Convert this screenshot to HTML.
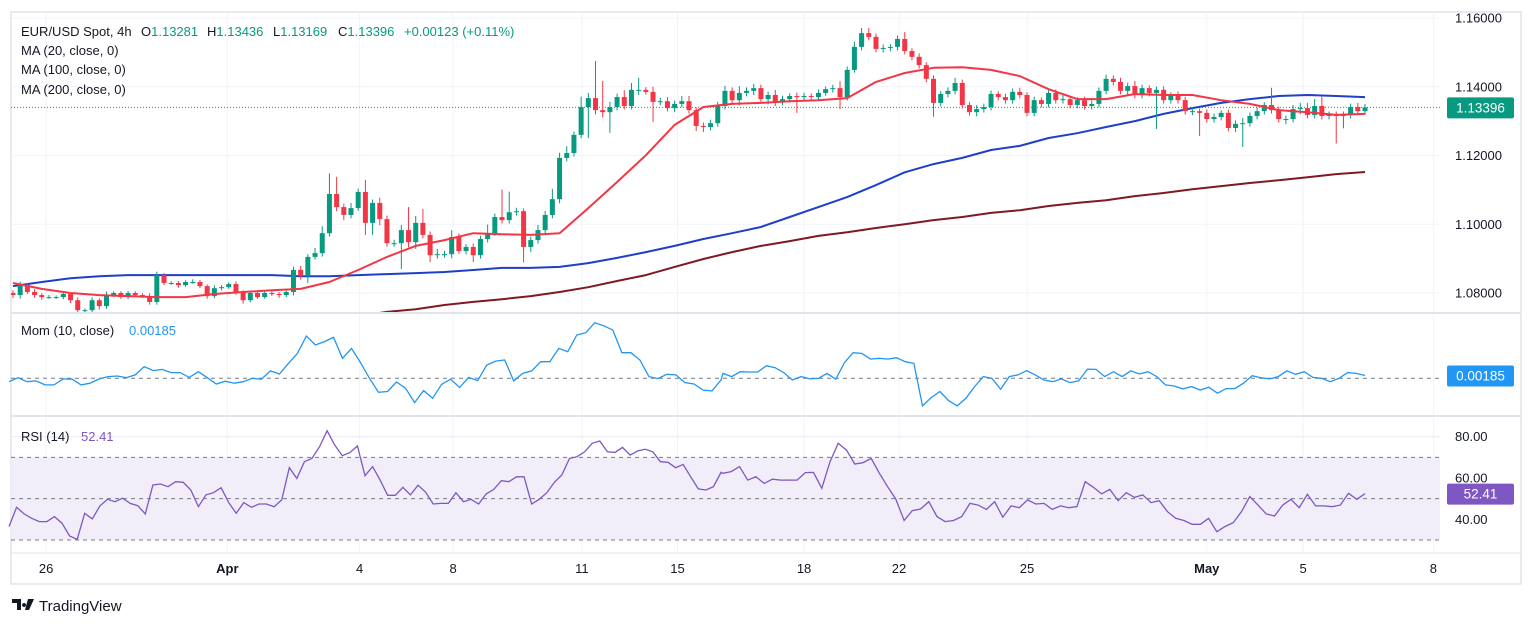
<!DOCTYPE html>
<html><head><meta charset="utf-8">
<style>
html,body{margin:0;padding:0;background:#fff;}
svg{display:block;font-family:"Liberation Sans",sans-serif;}
</style></head>
<body>
<svg id="chart" width="1536" height="625" viewBox="0 0 1536 625" xmlns="http://www.w3.org/2000/svg">
  <rect x="11" y="12" width="1510" height="572" fill="#fff" stroke="#e0e3eb" stroke-width="1.5"/>
  <g id="grid"></g>
  <rect x="11" y="457.3" width="1429" height="82.7" fill="#f2eef9"/>
  <g id="guides"></g>
  <g id="main"></g>
  <g id="mom"></g>
  <g id="rsi"></g>
  <line x1="11" y1="313" x2="1521" y2="313" stroke="#e0e3eb" stroke-width="2"/>
  <line x1="11" y1="416" x2="1521" y2="416" stroke="#e0e3eb" stroke-width="2"/>
  <line x1="11" y1="553" x2="1521" y2="553" stroke="#e0e3eb" stroke-width="1"/>
  <g id="axes" font-size="13" fill="#131722"></g>

  <g font-size="13" fill="#131722">
    <text x="21" y="36">EUR/USD Spot, 4h</text>
    <text x="141" y="36">O<tspan fill="#089981">1.13281</tspan></text>
    <text x="207" y="36">H<tspan fill="#089981">1.13436</tspan></text>
    <text x="273" y="36">L<tspan fill="#089981">1.13169</tspan></text>
    <text x="338" y="36">C<tspan fill="#089981">1.13396</tspan></text>
    <text x="404" y="36" fill="#089981">+0.00123 (+0.11%)</text>
    <text x="21" y="55">MA (20, close, 0)</text>
    <text x="21" y="74">MA (100, close, 0)</text>
    <text x="21" y="94">MA (200, close, 0)</text>
    <text x="21" y="335">Mom (10, close)</text>
    <text x="129" y="335" fill="#2196f3">0.00185</text>
    <text x="21" y="441">RSI (14)</text>
    <text x="81" y="441" fill="#7e57c2">52.41</text>
  </g>
  <g>
    <path d="M12 599h9v11h-4v-7h-5z M24 603a2 2 0 1 0 0.1 0z M28 599h6l-5 11h-4z" fill="#131722"/>
    <text x="39" y="611" font-size="15" fill="#131722">TradingView</text>
  </g>
</svg>
<script>
const firstOpen = 1.0800;
const closes = [
1.0794,1.0823,1.0803,1.0794,1.0788,1.0788,1.0788,1.0797,1.0779,1.0750,
1.0750,1.0779,1.0762,1.0794,1.0800,1.0788,1.0800,1.0794,1.0791,1.0774,
1.0852,1.0829,1.0829,1.0823,1.0832,1.0832,1.0820,1.0791,1.0814,1.0817,
1.0826,1.0803,1.0779,1.0800,1.0788,1.0800,1.0797,1.0794,1.0803,1.0867,
1.0849,1.0905,1.0916,1.0974,1.1088,1.1050,1.1027,1.1047,1.1094,1.1004,
1.1062,1.1015,1.0945,1.0945,1.0983,1.0948,1.1004,1.0969,1.0910,1.0913,
1.0913,1.0963,1.0922,1.0934,1.0910,1.0957,1.0974,1.1021,1.1012,1.1035,
1.1038,
1.0934,1.0954,1.0983,1.1027,1.1073,1.1193,1.1207,1.1260,1.1341,1.1367,
1.1332,1.1326,1.1341,1.1370,1.1344,1.1391,1.1391,1.1385,1.1356,1.1358,
1.1338,1.1350,1.1358,1.1332,1.1286,1.1283,1.1294,1.1344,1.1388,1.1361,
1.1382,1.1388,1.1396,1.1364,1.1376,1.1356,1.1364,1.1373,1.1370,1.1373,
1.1370,1.1382,1.1393,1.1396,1.1370,1.1449,1.1516,1.1556,1.1545,1.1510,
1.1513,1.1516,1.1539,1.1504,1.1487,1.1463,1.1423,1.1353,1.1379,1.1388,
1.1411,1.1347,1.1326,1.1335,1.1341,1.1379,1.1370,
1.1361,1.1385,1.1376,1.1324,1.1361,1.1350,1.1382,1.1361,1.1364,1.1347,
1.1361,1.1344,1.1350,1.1388,1.1423,1.1414,1.1388,1.1402,1.1376,1.1396,
1.1382,1.1391,1.1361,1.1376,1.1361,1.1329,1.1329,1.1324,1.1306,1.1312,
1.1324,1.1280,1.1292,1.1294,1.1315,1.1329,1.1347,1.1332,1.1306,1.1306,
1.1335,1.1338,1.1318,1.1344,1.1315,1.1318,1.1315,1.1318,1.1341,1.1329,
1.1340];
const upWickPips = [
8,10,6,8,5,6,5,8,5,8, 5,8,6,10,5,5,6,5,5,8, 10,6,5,6,5,8,6,5,8,6, 5,8,5,6,5,5,5,6,8,10,
12,8,15,20,60,50,10,15,10,35, 10,15,10,10,15,67,20,40,10,15, 10,20,10,8,10,10,25,10,80,60,
10,8,10,15,12,30,15,20,10,30, 15,108,85,15,10,20,20,35,8,15, 10,12,10,15,15,8,10,10,12,15,
10,20,10,12,10,10,15,10,8,10, 10,8,10,8,10,20,10,15,15,15, 10,10,8,10,20,8,10,8,10,8,
10,15,10,8,12,10,10,8,10,10, 12,8,10,8,10,10,12,10,8,10, 10,10,12,10,12,10,15,10,8,10,
10,8,10,10,12,8,10,10,8,10, 10,15,10,10,8,50,10,10,12,15, 15,20,27,10,10,10,10,12,10];
const downWickPips = [
8,10,6,8,8,5,5,6,8,12, 8,6,10,8,6,5,6,5,5,8, 8,6,5,8,5,5,6,8,6,6, 5,8,10,6,5,5,6,8,6,10,
10,20,8,10,10,12,15,10,8,35, 35,18,10,10,75,15,20,10,20,10, 10,12,8,10,20,10,10,8,10,10,
10,45,15,10,10,10,12,10,10,10, 90,12,15,60,10,10,10,15,8,58, 10,10,12,10,10,15,15,10,10,10,
12,15,10,12,10,15,12,10,10,46, 10,10,10,8,10,35,10,8,10,10, 10,10,10,10,10,10,10,10,40,10,
10,10,10,10,12,10,10,10,10,10, 10,10,10,10,10,10,10,10,10,10, 10,10,10,10,10,10,10,10,10,105,
10,10,10,10,12,67,10,10,10,10, 12,67,10,10,10,10,10,15,10,15, 10,10,10,10,80,36,10,10,10];
const maStep = 4;
const ma20 = [1.0829,1.0812,1.0800,1.0794,1.0791,1.0788,1.0788,1.0797,1.0803,1.0808,1.0812,1.0832,1.0867,1.0905,1.0937,1.0954,1.0974,1.0971,1.0969,1.0974,1.1047,1.1123,1.1201,1.1289,1.1341,1.1350,1.1353,1.1358,1.1361,1.1367,1.1414,1.1440,1.1455,1.1457,1.1449,1.1431,1.1393,1.1364,1.1364,1.1379,1.1376,1.1376,1.1361,1.1350,1.1332,1.1326,1.1318,1.1321];
const ma100 = [1.0820,1.0832,1.0843,1.0849,1.0852,1.0852,1.0852,1.0852,1.0852,1.0852,1.0849,1.0849,1.0852,1.0855,1.0858,1.0861,1.0867,1.0873,1.0873,1.0876,1.0887,1.0902,1.0919,1.0937,1.0957,1.0974,1.0992,1.1021,1.1050,1.1079,1.1114,1.1151,1.1175,1.1193,1.1216,1.1228,1.1251,1.1265,1.1283,1.1300,1.1321,1.1338,1.1353,1.1364,1.1373,1.1376,1.1373,1.1370];
const ma200 = [1.0619,1.0628,1.0637,1.0646,1.0654,1.0663,1.0672,1.0681,1.0692,1.0701,1.0710,1.0721,1.0733,1.0745,1.0753,1.0765,1.0774,1.0782,1.0791,1.0803,1.0817,1.0835,1.0852,1.0876,1.0899,1.0919,1.0937,1.0951,1.0966,1.0977,1.0989,1.1000,1.1012,1.1021,1.1033,1.1041,1.1053,1.1062,1.1070,1.1082,1.1091,1.1102,1.1111,1.1120,1.1128,1.1137,1.1146,1.1152];
const momValues = [
-0.0022,0.0004,-0.0022,-0.0017,-0.0043,-0.0043,-0.0004,-0.0006,-0.0043,-0.0032,
-0.0004,0.0011,0.0015,0.0004,0.0022,0.0076,0.0050,0.0058,0.0037,0.0037,
0.0006,0.0043,0.0004,-0.0037,-0.0019,-0.0032,-0.0022,0.0000,-0.0006,0.0048,
0.0028,0.0097,0.0162,0.0274,0.0216,0.0238,0.0266,0.0130,0.0194,0.0102,
0.0000,-0.0091,-0.0086,-0.0024,-0.0065,-0.0158,-0.0080,-0.0130,-0.0039,-0.0006,
-0.0060,0.0006,-0.0015,0.0086,0.0112,0.0119,-0.0017,0.0032,0.0048,0.0108,
0.0108,0.0194,0.0173,0.0281,0.0296,0.0361,0.0341,0.0313,0.0166,0.0166,
0.0119,0.0011,-0.0002,0.0026,0.0022,-0.0028,-0.0037,-0.0076,-0.0082,-0.0011,
0.0032,0.0011,0.0043,0.0041,0.0041,0.0082,0.0069,0.0037,-0.0011,0.0011,
-0.0004,0.0000,0.0032,-0.0006,0.0102,0.0166,0.0162,0.0125,0.0130,0.0125,
0.0134,0.0108,0.0097,-0.0179,-0.0125,-0.0086,-0.0145,-0.0179,-0.0130,-0.0054,
0.0011,0.0000,-0.0071,0.0011,0.0022,0.0050,0.0022,-0.0011,-0.0022,-0.0004,
-0.0028,-0.0017,0.0060,0.0058,0.0011,0.0043,0.0011,0.0048,0.0028,0.0043,
0.0011,-0.0043,-0.0050,-0.0069,-0.0054,-0.0076,-0.0058,-0.0097,-0.0067,-0.0067,
-0.0032,0.0017,0.0004,-0.0004,0.0011,0.0048,0.0026,0.0043,0.0006,0.0000,
-0.0022,0.0000,0.0037,0.0032,0.00185];
const rsiValues = [
36.5,45.8,42.6,40.5,38.9,38.9,41.3,38.1,31.9,30.3,
42.9,40.2,46.5,49.7,48.5,50.2,47.7,46.6,42.6,56.6,
57.1,55.8,58.2,57.9,54.2,46.1,51.8,52.9,55.3,48.1,
42.9,48.1,45.8,47.4,47.4,46.1,49.4,65.0,59.8,67.9,
69.5,75.2,82.9,76.0,70.8,72.3,75.5,61.1,65.5,59.0,
51.6,51.6,55.5,51.8,56.5,53.1,47.4,47.7,47.7,52.9,
48.5,49.7,47.4,52.3,54.5,58.7,58.2,60.6,60.6,47.4,
49.7,52.9,57.9,61.5,69.5,70.3,72.7,76.8,77.9,72.7,
72.4,74.8,71.1,73.1,73.9,72.7,67.9,67.6,65.0,66.6,
60.6,54.7,54.2,55.8,62.7,
62.3,63.1,65.5,59.0,60.6,57.4,59.4,59.0,59.0,59.0,
62.6,62.7,55.0,67.9,76.8,73.5,66.8,67.4,69.5,62.3,
55.8,49.8,39.4,44.2,45.0,48.5,41.3,38.9,39.4,41.3,
47.7,46.9,44.8,48.5,41.0,46.5,45.6,49.4,47.4,47.7,
44.8,46.5,45.6,46.1,58.2,55.5,52.3,54.5,49.0,52.9,
50.6,51.8,48.1,49.0,43.7,40.5,39.4,37.6,37.6,40.5,
34.0,36.5,38.4,43.7,51.0,46.9,42.6,41.6,46.9,49.7,
45.6,52.1,46.5,46.5,46.1,46.9,52.6,49.7,52.41];
const momSplit = 80;
const rsiSplit = 95;
const priceTicks = [1.16, 1.14, 1.12, 1.10, 1.08];
const rsiTicks = [80, 60, 40];
const rsiLevels = [70, 50, 30];
const timeLabels = ["26","Apr","4","8","11","15","18","22","25","May","5","8"];
const timeLabelCandle = [4.6,29.8,48.2,61.2,79.1,92.4,110,123.2,141,166,179.4,197.5];
const lastPriceLabel = "1.13396";
const lastMomLabel = "0.00185";
const lastRsiLabel = "52.41";

const NS = "http://www.w3.org/2000/svg";
function mk(tag, attrs, parent){ const e=document.createElementNS(NS,tag); for(const k in attrs) e.setAttribute(k,attrs[k]); parent.appendChild(e); return e; }
const X0 = 13, X1 = 1365;
const N = closes.length;
const xC = i => X0 + i*(X1-X0)/(N-1);
const yP = p => 18 + (1.16 - p)*3437.5;
const yM = v => 378.3 - v*1540;
const yR = r => 436.7 + (80 - r)*2.065;
const GREEN="#089981", RED="#f23645";
function xSeg(k, len, split){
  if(k < split) return 9 + k*(721-9)/(split-1);
  return 723 + (k-split)*(1365-723)/Math.max(1,(len-1-split));
}

const grid=document.getElementById('grid'), guides=document.getElementById('guides');
const axes=document.getElementById('axes');
timeLabels.forEach((t,k)=>{
  const x = xC(timeLabelCandle[k]);
  const gl = mk('line',{x1:x,y1:12,x2:x,y2:553,stroke:'#f0f3fa','stroke-width':1},grid);
  
  
  const tx = mk('text',{x:x,y:573,'text-anchor':'middle','font-weight':(t==='Apr'||t==='May')?'bold':'normal'},axes);
  tx.textContent = t;
  
  
});
priceTicks.forEach(p=>{
  const y=yP(p);
  const gl=mk('line',{x1:11,y1:y,x2:1440,y2:y,stroke:'#f0f3fa','stroke-width':1},grid);
  
  
  const tx=mk('text',{x:1455,y:y+4.5},axes);
  tx.textContent=p.toFixed(5);
  
  
});
rsiTicks.forEach(r=>{
  const y=yR(r);
  const gl=mk('line',{x1:11,y1:y,x2:1440,y2:y,stroke:'#ebe7f3','stroke-width':1},grid);
  
  
  const tx=mk('text',{x:1455,y:y+4.5},axes);
  tx.textContent=r.toFixed(2);
  
  
});
rsiLevels.forEach(r=>{
  const l=mk('line',{x1:11,y1:yR(r),x2:1440,y2:yR(r),stroke:'#787b86','stroke-width':1,'stroke-dasharray':'4 4'},guides);
  
  
});
const zl=mk('line',{x1:11,y1:yM(0),x2:1440,y2:yM(0),stroke:'#787b86','stroke-width':1,'stroke-dasharray':'4 4'},guides);



const main=document.getElementById('main');
const clip=mk('clipPath',{id:'mainclip'},main);
mk('rect',{x:11,y:13,width:1429,height:299},clip);
const mg=mk('g',{'clip-path':'url(#mainclip)'},main);
const lastY=yP(closes[N-1]);
const pl=mk('line',{x1:11,y1:lastY,x2:1440,y2:lastY,stroke:GREEN,'stroke-width':1,'stroke-dasharray':'1 2'},mg);


function maLine(arr,color,name,w){
  let d='';
  arr.forEach((v,k)=>{ const i=Math.min(k*maStep,N-1); d+=(k?'L':'M')+xC(i).toFixed(1)+' '+yP(v).toFixed(1); });
  const p=mk('path',{d:d,fill:'none',stroke:color,'stroke-width':w,'stroke-linejoin':'round'},mg);
  
  
}
maLine(ma200,'#801922','ma200-line',2);
maLine(ma100,'#1e3fc9','ma100-line',2);
let prev=firstOpen;
for(let i=0;i<N;i++){
  const o=prev, c=closes[i];
  const hi=Math.max(o,c)+upWickPips[i]*0.0001, lo=Math.min(o,c)-downWickPips[i]*0.0001;
  const col=c>=o?GREEN:RED, x=xC(i);
  const g=mk('g',{},mg);
  
  
  mk('line',{x1:x,y1:yP(hi),x2:x,y2:yP(lo),stroke:col,'stroke-width':1},g);
  const top=yP(Math.max(o,c)), h=Math.max(1,yP(Math.min(o,c))-top);
  mk('rect',{x:x-2.5,y:top,width:5,height:h,fill:col},g);
  prev=c;
}
maLine(ma20,'#f23645','ma20-line',2);

const mom=document.getElementById('mom');
let md=''; momValues.forEach((v,k)=>{ md+=(k?'L':'M')+xSeg(k,momValues.length,momSplit).toFixed(1)+' '+yM(v).toFixed(1); });
const mp=mk('path',{d:md,fill:'none',stroke:'#2196f3','stroke-width':1.3},mom);



const rsi=document.getElementById('rsi');
let rd=''; rsiValues.forEach((v,k)=>{ rd+=(k?'L':'M')+xSeg(k,rsiValues.length,rsiSplit).toFixed(1)+' '+yR(v).toFixed(1); });
const rp=mk('path',{d:rd,fill:'none',stroke:'#7e57c2','stroke-width':1.3},rsi);



function badge(y,color,txt,name){
  const g=mk('g',{},axes);
  
  
  mk('rect',{x:1447,y:y-10,width:67,height:21,rx:2,fill:color},g);
  const t=mk('text',{x:1480.5,y:y+5,'text-anchor':'middle',fill:'#fff','font-size':'13.5'},g);
  t.textContent=txt;
}
badge(lastY,GREEN,lastPriceLabel,'last-price-badge');
badge(yM(momValues[momValues.length-1]),'#2196f3',lastMomLabel,'momentum-value-badge');
badge(yR(rsiValues[rsiValues.length-1]),'#7e57c2',lastRsiLabel,'rsi-value-badge');
</script>
</body></html>
